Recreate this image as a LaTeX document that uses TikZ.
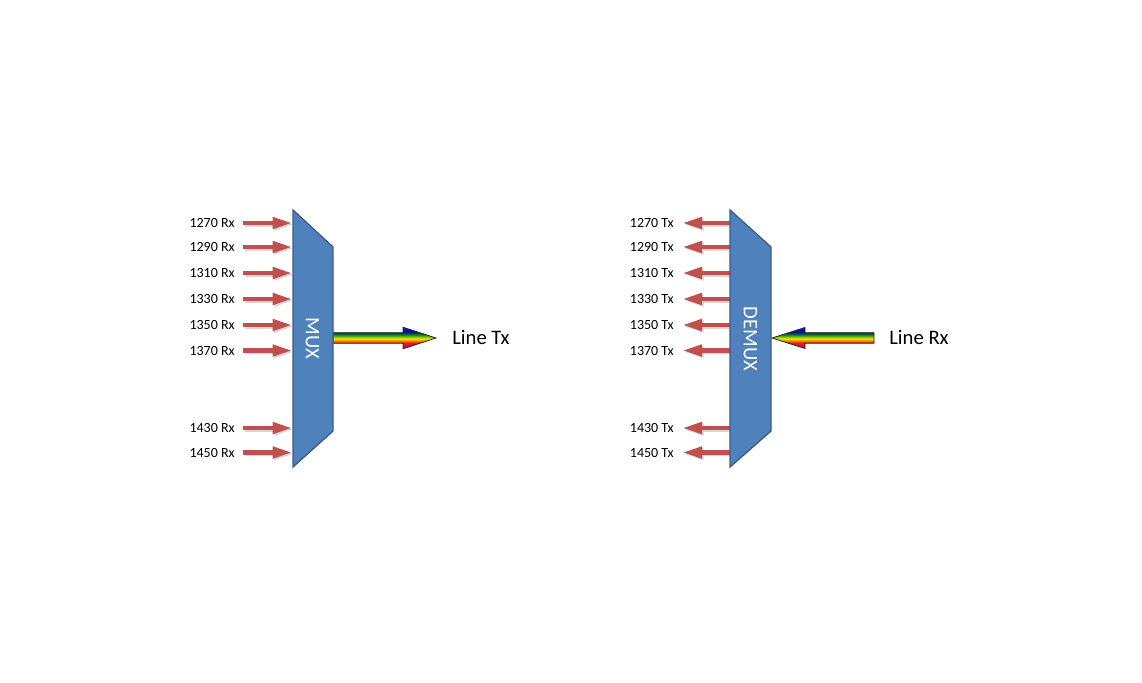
\documentclass[tikz,border=0pt]{standalone}
\usepackage{fontspec}
\setmainfont{Carlito}
\usetikzlibrary{arrows.meta,calc}
\definecolor{muxfill}{HTML}{4F81BD}
\definecolor{muxdraw}{HTML}{385D8A}
\definecolor{arrred}{HTML}{C0504D}
\definecolor{rbmag}{RGB}{240,0,200}
\definecolor{rbred2}{RGB}{235,0,60}
\definecolor{rbred}{RGB}{215,40,20}
\definecolor{rborange}{RGB}{250,140,0}
\definecolor{rbyellow}{RGB}{255,225,0}
\definecolor{rblgreen}{RGB}{130,200,0}
\definecolor{rbgreen}{RGB}{0,140,40}
\definecolor{rbteal}{RGB}{20,55,60}
\definecolor{rbnavy}{RGB}{10,10,170}
\definecolor{rbblue}{RGB}{20,20,255}
\pgfdeclareverticalshading{rainbow}{100bp}{color(0bp)=(rbmag); color(25bp)=(rbmag); color(32.5bp)=(rbred2); color(39bp)=(rbred); color(44bp)=(rborange); color(48.5bp)=(rbyellow); color(52.5bp)=(rblgreen); color(57.5bp)=(rbgreen); color(62bp)=(rbteal); color(65bp)=(rbnavy); color(75bp)=(rbblue); color(100bp)=(rbblue)}
\begin{document}
\begin{tikzpicture}[x=0.75pt,y=-0.75pt,
  lbl/.style={font=\fontsize{10.5}{12}\selectfont, inner sep=0pt, text height=6.8pt, text depth=0pt, anchor=east},
  big/.style={font=\fontsize{15.5}{18}\selectfont, inner sep=0pt, text height=10pt, text depth=0pt},
  redarr/.style={draw=arrred, fill=arrred, line width=3.5pt, -{Triangle[length=15pt,width=8.2pt]}},
  shadowarr/.style={draw=black!16, fill=black!16, line width=3.5pt, -{Triangle[length=15pt,width=8.2pt]}},
  box/.style={fill=muxfill, draw=muxdraw, line width=1pt, line join=miter},
  rbarr/.style={shading=rainbow, draw=black!85, line width=0.6pt, line join=miter}
]
\useasboundingbox (0,0) rectangle (1142,682);

% ---------- MUX ----------
\foreach \i/\y/\t in {1/223/1270,2/247/1290,3/273/1310,4/299/1330,5/325/1350,6/350.5/1370,7/428/1430,8/452.5/1450}{
  \coordinate (ms\i) at (243,\y);
  \coordinate (me\i) at (292.5,\y);
  \node[lbl] (ml\i) at (235,\y) {\t{} Rx};
  \draw[shadowarr] ([shift={(1.5,1.5)}]ms\i) -- ([shift={(1.5,1.5)}]me\i);
  \draw[redarr] (ms\i) -- (me\i);
}
\coordinate (mo) at (333,338);
\node[big, anchor=west] (ltx) at (452,338) {Line Tx};
\shade[rbarr] ($(mo)+(0,-5.3)$) -- ($(mo)+(70,-5.3)$) -- ($(mo)+(70,-10.8)$) -- ($(ltx.west)+(-16,0)$)
  -- ($(mo)+(70,10.8)$) -- ($(mo)+(70,5.3)$) -- ($(mo)+(0,5.3)$) -- cycle;
\draw[box] (293,210) -- (333,247) -- (333,431) -- (293,467) -- cycle;
\node[big, text=white, rotate=-90] (mux) at (312.5,338.5) {MUX};

% ---------- DEMUX ----------
\foreach \i/\y/\t in {1/223/1270,2/247/1290,3/273/1310,4/299/1330,5/325/1350,6/350.5/1370,7/428/1430,8/452.5/1450}{
  \coordinate (ds\i) at (730,\y);
  \coordinate (de\i) at (682,\y);
  \node[lbl] (dl\i) at (674,\y) {\t{} Tx};
  \draw[shadowarr] ([shift={(1.5,1.5)}]ds\i) -- ([shift={(1.5,1.5)}]de\i);
  \draw[redarr] (ds\i) -- (de\i);
}
\coordinate (di) at (772,338);
\node[big, anchor=west] (lrx) at (889,338) {Line Rx};
\shade[rbarr] (di) -- ($(di)+(33,-10.5)$) -- ($(di)+(33,-5.3)$) -- ($(lrx.west)+(-15,-5.3)$)
  -- ($(lrx.west)+(-15,5.3)$) -- ($(di)+(33,5.3)$) -- ($(di)+(33,10.5)$) -- cycle;
\draw[box] (730,210) -- (771,247) -- (771,431) -- (730,467) -- cycle;
\node[big, text=white, rotate=-90] (demux) at (750.5,339) {DEMUX};
\end{tikzpicture}
\end{document}
